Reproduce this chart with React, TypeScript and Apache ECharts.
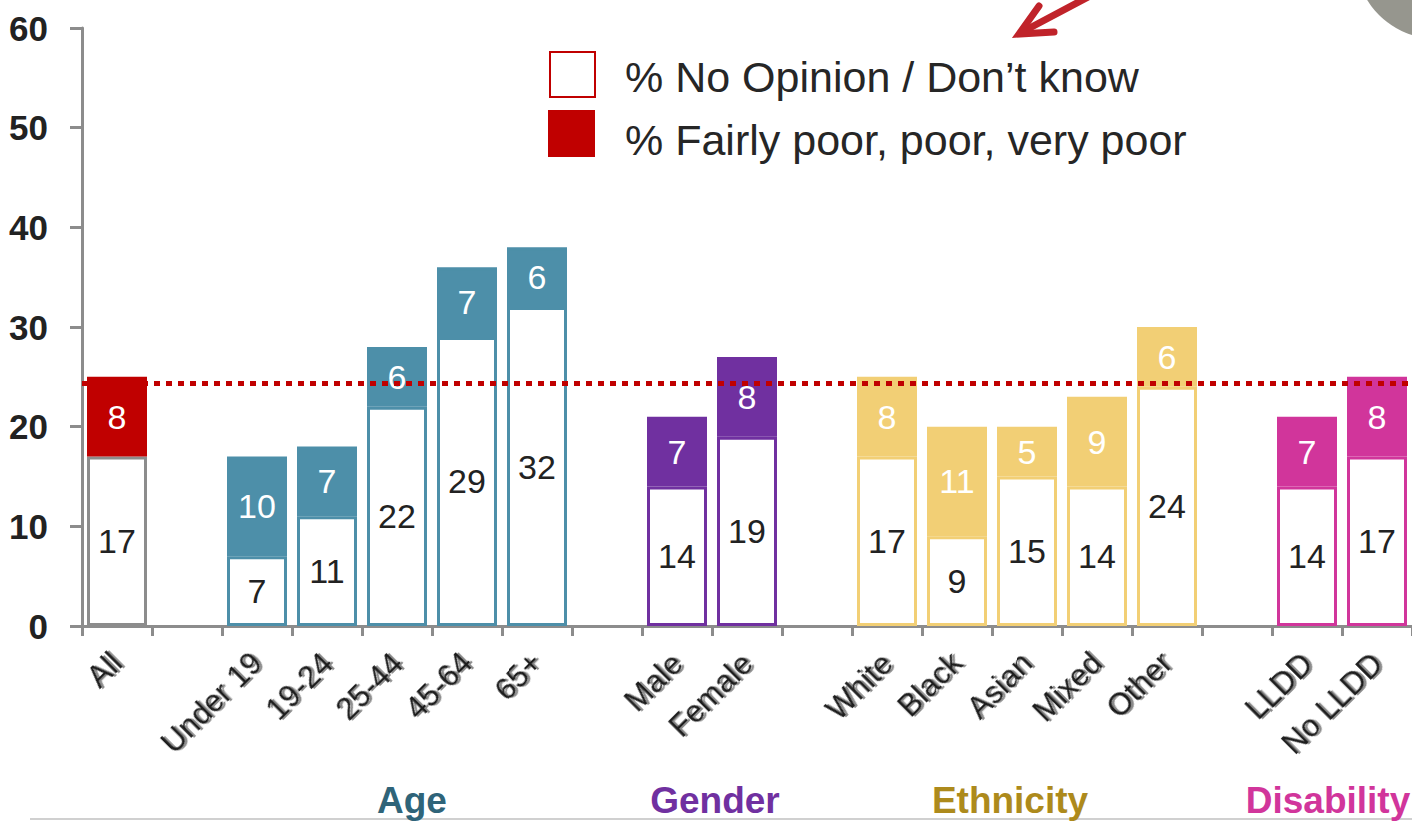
import React, { useEffect, useRef } from "react";
import * as echarts from "echarts";

const categories = ["All", "Under 19", "19-24", "25-44", "45-64", "65+", "Male", "Female", "White", "Black", "Asian", "Mixed", "Other", "LLDD", "No LLDD"];
const groupOf = ["All", "Age", "Age", "Age", "Age", "Age", "Gender", "Gender", "Ethnicity", "Ethnicity", "Ethnicity", "Ethnicity", "Ethnicity", "Disability", "Disability"];
const noOpinion = [17, 7, 11, 22, 29, 32, 14, 19, 17, 9, 15, 14, 24, 14, 17];
const fairlyPoor = [8, 10, 7, 6, 7, 6, 7, 8, 8, 11, 5, 9, 6, 7, 8];
const averageLine = 24.4;
const yTicks = [0, 10, 20, 30, 40, 50, 60];
const legendNames = ["% No Opinion / Don\u2019t know", "% Fairly poor, poor, very poor"];
const groupLabels = ["Age", "Gender", "Ethnicity", "Disability"];

const FONT = "'Liberation Sans', Arial, sans-serif";
const fillColors: Record<string, string> = {
  All: "#C00000",
  Age: "#4D8FA9",
  Gender: "#7030A0",
  Ethnicity: "#F2CF75",
  Disability: "#D1359B",
};
const borderColors: Record<string, string> = {
  All: "#8C8C8C",
  Age: "#4D8FA9",
  Gender: "#7030A0",
  Ethnicity: "#F2CF75",
  Disability: "#D1359B",
};
const groupTextColors: Record<string, string> = {
  Age: "#2F6479",
  Gender: "#7030A0",
  Ethnicity: "#AD8A1C",
  Disability: "#D1359B",
};
const groupTextX: Record<string, number> = {
  Age: 412,
  Gender: 715,
  Ethnicity: 1010,
  Disability: 1328,
};

export default function App() {
  const ref = useRef<HTMLDivElement>(null);
  useEffect(() => {
    if (!ref.current) return;
    const chart = echarts.init(ref.current, undefined, { renderer: "svg" });

    // Build axis with gaps between groups
    const axisCats: string[] = [];
    const s1: any[] = [];
    const s2: any[] = [];
    let gapCount = 0;
    categories.forEach((c, i) => {
      if (i > 0 && groupOf[i] !== groupOf[i - 1]) {
        gapCount += 1;
        axisCats.push(" ".repeat(gapCount));
        s1.push("-");
        s2.push("-");
      }
      axisCats.push(c);
      const g = groupOf[i];
      s1.push({
        value: noOpinion[i],
        itemStyle: { color: "#FFFFFF", borderColor: borderColors[g], borderWidth: 3 },
      });
      s2.push({
        value: fairlyPoor[i],
        itemStyle: { color: fillColors[g], borderColor: fillColors[g], borderWidth: 3 },
      });
    });

    const graphics: any[] = [
      // legend
      { type: "rect", left: 549, top: 51, shape: { width: 45, height: 45 }, style: { fill: "#fff", stroke: "#C00000", lineWidth: 2 } },
      { type: "rect", left: 548, top: 110, shape: { width: 47, height: 47 }, style: { fill: "#C00000" } },
      { type: "text", left: 625, top: 55, style: { text: legendNames[0], font: `43px ${FONT}`, fill: "#262626" } },
      { type: "text", left: 625, top: 118, style: { text: legendNames[1], font: `43px ${FONT}`, fill: "#262626" } },
      // bottom rule
      { type: "line", shape: { x1: 30, y1: 819, x2: 1412, y2: 819 }, style: { stroke: "#D0D0D0", lineWidth: 2 } },
      // corner circle
      { type: "circle", shape: { cx: 1437, cy: -43, r: 82 }, style: { fill: "#96968E" } },
      // red arrow
      { type: "line", shape: { x1: 1090, y1: -4, x2: 1024, y2: 31 }, style: { stroke: "#C0232A", lineWidth: 7, lineCap: "round" } },
      { type: "polyline", shape: { points: [[1039, 6], [1019, 34], [1054, 32]] }, style: { stroke: "#C0232A", fill: "none", lineWidth: 7, lineCap: "round", lineJoin: "miter" } },
    ];
    groupLabels.forEach((g) => {
      graphics.push({
        type: "text",
        x: groupTextX[g],
        y: 800,
        style: {
          text: g,
          font: `bold 37px ${FONT}`,
          fill: groupTextColors[g],
          textAlign: "center",
          textVerticalAlign: "middle",
        },
      });
    });

    chart.setOption({
      animation: false,
      backgroundColor: "#FFFFFF",
      grid: { left: 82, top: 28, width: 1334, height: 598, containLabel: false },
      xAxis: {
        type: "category",
        data: axisCats,
        axisLine: { lineStyle: { color: "#8C8C8C", width: 3 } },
        axisTick: { show: true, length: 10, lineStyle: { color: "#8C8C8C", width: 3 } },
        axisLabel: {
          interval: 0,
          rotate: 45,
          margin: 32,
          fontSize: 31,
          fontFamily: FONT,
          color: "#1E1E1E",
          textShadowColor: "rgba(0,0,0,0.45)",
          textShadowOffsetX: 2,
          textShadowOffsetY: 2,
          textShadowBlur: 1,
        },
      },
      yAxis: {
        type: "value",
        min: yTicks[0],
        max: yTicks[yTicks.length - 1],
        interval: 10,
        splitLine: { show: false },
        axisLine: { show: true, lineStyle: { color: "#8C8C8C", width: 3 } },
        axisTick: { show: true, length: 12, lineStyle: { color: "#8C8C8C", width: 3 } },
        axisLabel: { margin: 34, fontSize: 35, fontWeight: "bold", fontFamily: FONT, color: "#222" },
      },
      series: [
        {
          name: legendNames[0],
          type: "bar",
          stack: "total",
          barWidth: 60,
          data: s1,
          label: { show: true, position: "inside", color: "#222", fontSize: 34, fontFamily: FONT },
        },
        {
          name: legendNames[1],
          type: "bar",
          stack: "total",
          barWidth: 60,
          data: s2,
          label: { show: true, position: "inside", color: "#FFFFFF", fontSize: 34, fontFamily: FONT },
          markLine: {
            silent: true,
            symbol: "none",
            label: { show: false },
            lineStyle: { color: "#C00000", width: 5, type: [6, 6] },
            data: [{ yAxis: averageLine }],
          },
        },
      ],
      graphic: graphics,
    });
    return () => chart.dispose();
  }, []);
  return <div ref={ref} style={{ position: "fixed", left: 0, top: 0, width: 1412, height: 821 }} />;
}
